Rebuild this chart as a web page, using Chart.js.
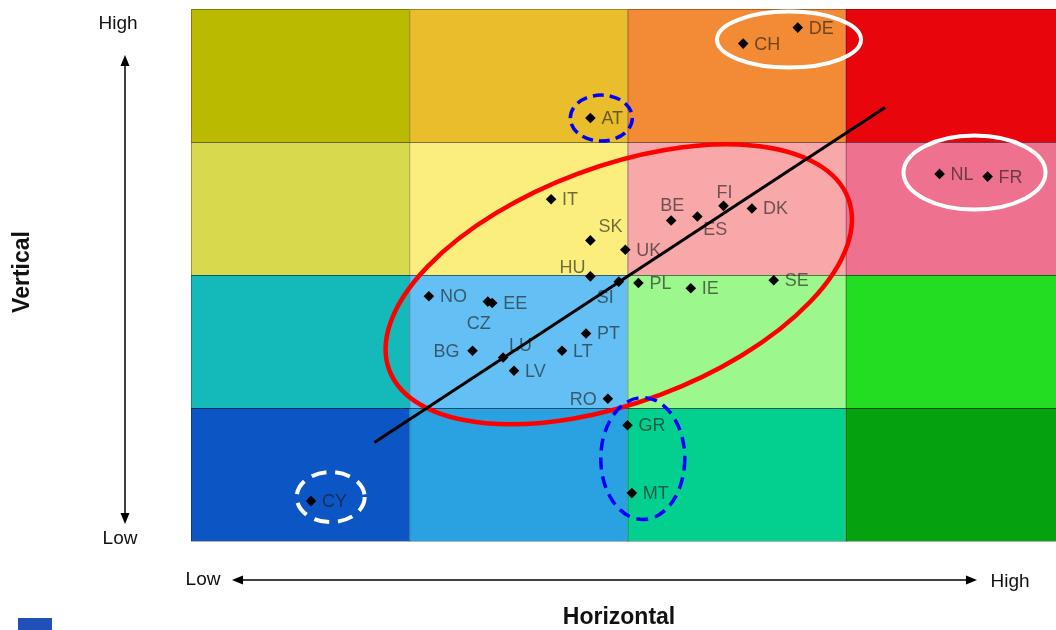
<!DOCTYPE html>
<html>
<head>
<meta charset="utf-8">
<script src="https://cdn.jsdelivr.net/npm/chart.js@4"></script>
<style>
  html, body { margin: 0; padding: 0; overflow: hidden; background: #fff; }
  canvas { display: block; }
</style>
</head>
<body>
<canvas id="matrix" width="1072" height="630"></canvas>
<script>
// country positions on the 4x4 matrix (0..4 on both axes)
const countries  = ['DE', 'CH', 'AT', 'IT', 'SK', 'UK', 'HU', 'SI', 'PL', 'IE', 'SE', 'BE', 'ES', 'FI', 'DK', 'NL', 'FR', 'NO', 'CZ', 'EE', 'BG', 'LU', 'LV', 'LT', 'PT', 'RO', 'GR', 'MT', 'CY'];
const horizontal = [2.78, 2.53, 1.83, 1.65, 1.83, 1.99, 1.83, 1.96, 2.05, 2.29, 2.67, 2.20, 2.32, 2.44, 2.57, 3.43, 3.65, 1.09, 1.36, 1.38, 1.29, 1.43, 1.48, 1.70, 1.81, 1.91, 2.00, 2.02, 0.55];
const vertical   = [3.86, 3.74, 3.18, 2.57, 2.26, 2.19, 1.99, 1.95, 1.94, 1.90, 1.96, 2.41, 2.44, 2.52, 2.50, 2.76, 2.74, 1.84, 1.80, 1.79, 1.43, 1.38, 1.28, 1.43, 1.56, 1.07, 0.87, 0.36, 0.30];

// trend line end points
const trendX = [0.84, 3.18];
const trendY = [0.74, 3.26];

// cell boundaries
const levels = [0, 1, 2, 3, 4];

// highlighted groups (centre in data units)
const groupCentreX = [1.96, 2.74, 3.59, 1.88, 2.07, 0.64];
const groupCentreY = [1.93, 3.77, 2.77, 3.18, 0.62, 0.33];

const cellColors = [
    ['#0c55c4', '#2aa1e0', '#03cf8e', '#06a10e'],
    ['#14baba', '#64c0f4', '#9cf78c', '#23dd23'],
    ['#d9d94e', '#fbee7c', '#f8a8a8', '#ee7190'],
    ['#baba00', '#e9bd2c', '#f38a35', '#e8060c']
];

const groupStyles = [
    { rx: 245, ry: 118, rot: -20.5, color: '#ff0000', width: 4.5, dash: [] },
    { rx: 72, ry: 28, rot: 0, color: '#ffffff', width: 4, dash: [] },
    { rx: 71, ry: 37, rot: 0, color: '#ffffff', width: 4, dash: [] },
    { rx: 31, ry: 23, rot: 0, color: '#0000ff', width: 3.5, dash: [11, 6] },
    { rx: 42, ry: 61, rot: 0, color: '#0000ff', width: 3.5, dash: [12, 7] },
    { rx: 34, ry: 25, rot: 0, color: '#ffffff', width: 4, dash: [15, 9] }
];

const labelPlacement = {
    SK: { dx: 8, dy: -14, align: 'left' },
    HU: { dx: -5, dy: -9, align: 'right' },
    SI: { dx: -5, dy: 15, align: 'right' },
    CZ: { dx: -9, dy: 21, align: 'center' },
    BG: { dx: -13, dy: 0, align: 'right' },
    LU: { dx: 6, dy: -12, align: 'left' },
    RO: { dx: -11, dy: 0, align: 'right' },
    BE: { dx: 1, dy: -15, align: 'center' },
    ES: { dx: 6, dy: 13, align: 'left' },
    FI: { dx: 1, dy: -14, align: 'center' }
};
const defaultPlacement = { dx: 11, dy: 0, align: 'left' };

const FONT = '"Liberation Sans", Arial, sans-serif';

function arrow(ctx, x1, y1, x2, y2) {
    // line with arrow head at (x2, y2)
    const ang = Math.atan2(y2 - y1, x2 - x1);
    ctx.beginPath();
    ctx.moveTo(x1, y1);
    ctx.lineTo(x2 - 8 * Math.cos(ang), y2 - 8 * Math.sin(ang));
    ctx.stroke();
    ctx.beginPath();
    ctx.moveTo(x2, y2);
    ctx.lineTo(x2 - 11 * Math.cos(ang) + 4.5 * Math.sin(ang), y2 - 11 * Math.sin(ang) - 4.5 * Math.cos(ang));
    ctx.lineTo(x2 - 11 * Math.cos(ang) - 4.5 * Math.sin(ang), y2 - 11 * Math.sin(ang) + 4.5 * Math.cos(ang));
    ctx.closePath();
    ctx.fill();
}

const matrixPlugin = {
    id: 'matrix',
    beforeDatasetsDraw(chart) {
        const { ctx, scales: { x, y } } = chart;
        ctx.save();
        // cells
        for (let r = 0; r < 4; r++) {
            for (let c = 0; c < 4; c++) {
                const left = x.getPixelForValue(levels[c]);
                const right = x.getPixelForValue(levels[c + 1]);
                const top = y.getPixelForValue(levels[r + 1]);
                const bottom = y.getPixelForValue(levels[r]);
                ctx.fillStyle = cellColors[r][c];
                ctx.fillRect(left, top, right - left, bottom - top);
                ctx.strokeStyle = 'rgba(0,0,0,0.3)';
                ctx.lineWidth = 1;
                ctx.strokeRect(left + 0.5, top + 0.5, right - left, bottom - top);
            }
        }
        // country labels
        ctx.font = '18px ' + FONT;
        ctx.fillStyle = 'rgba(25,25,25,0.62)';
        ctx.textBaseline = 'middle';
        countries.forEach((name, i) => {
            const p = labelPlacement[name] || defaultPlacement;
            ctx.textAlign = p.align;
            ctx.fillText(name, x.getPixelForValue(horizontal[i]) + p.dx, y.getPixelForValue(vertical[i]) + p.dy + 1);
        });
        // group ellipses
        groupStyles.forEach((g, i) => {
            ctx.beginPath();
            ctx.ellipse(x.getPixelForValue(groupCentreX[i]), y.getPixelForValue(groupCentreY[i]),
                g.rx, g.ry, g.rot * Math.PI / 180, 0, Math.PI * 2);
            ctx.strokeStyle = g.color;
            ctx.lineWidth = g.width;
            ctx.setLineDash(g.dash);
            ctx.stroke();
        });
        ctx.setLineDash([]);
        ctx.restore();
    },
    afterDraw(chart) {
        const { ctx } = chart;
        ctx.save();
        ctx.strokeStyle = '#000';
        ctx.fillStyle = '#000';
        ctx.lineWidth = 1.5;
        arrow(ctx, 125, 290, 125, 55);
        arrow(ctx, 125, 290, 125, 524);
        arrow(ctx, 600, 580, 232, 580);
        arrow(ctx, 600, 580, 977, 580);

        ctx.fillStyle = '#111';
        ctx.textAlign = 'center';
        ctx.textBaseline = 'middle';
        ctx.font = '19px ' + FONT;
        ctx.fillText('High', 118, 24);
        ctx.fillText('Low', 120, 539);
        ctx.fillText('Low', 203, 580);
        ctx.fillText('High', 1010, 582);

        ctx.font = 'bold 23px ' + FONT;
        ctx.fillText('Horizontal', 619, 618);
        ctx.translate(23, 272);
        ctx.rotate(-Math.PI / 2);
        ctx.fillText('Vertical', 0, 0);
        ctx.restore();

        // corner logo fragment
        ctx.fillStyle = '#2150b8';
        ctx.fillRect(18, 618, 34, 12);
    }
};

new Chart(document.getElementById('matrix'), {
    type: 'scatter',
    data: {
        datasets: [{
            label: 'Countries',
            data: countries.map((c, i) => ({ x: horizontal[i], y: vertical[i] })),
            pointStyle: 'rectRot',
            pointRadius: 5.3,
            pointBackgroundColor: '#000',
            pointBorderColor: '#000',
            pointBorderWidth: 0,
            order: 0
        }, {
            type: 'line',
            label: 'Trend',
            data: trendX.map((v, i) => ({ x: v, y: trendY[i] })),
            borderColor: '#000',
            borderWidth: 3,
            pointRadius: 0,
            order: 1
        }]
    },
    options: {
        responsive: false,
        animation: false,
        layout: { padding: { left: 191, top: 9, right: 8, bottom: 89 } },
        plugins: {
            legend: { display: false },
            tooltip: { enabled: false }
        },
        scales: {
            x: { type: 'linear', min: 0, max: 4, display: false },
            y: { type: 'linear', min: 0, max: 4, display: false }
        }
    },
    plugins: [matrixPlugin]
});
</script>
</body>
</html>
